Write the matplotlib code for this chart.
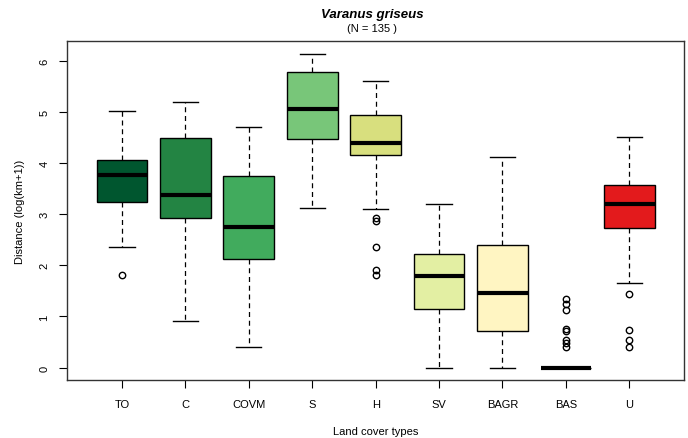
import matplotlib
matplotlib.use("Agg")
import matplotlib.pyplot as plt

# Box summaries (log(km+1) distance)
categories = ["TO", "C", "COVM", "S", "H", "SV", "BAGR", "BAS", "U"]
medians = [3.77, 3.37, 2.75, 5.07, 4.40, 1.79, 1.46, 0.0, 3.20]
q1 = [3.24, 2.93, 2.13, 4.47, 4.17, 1.14, 0.71, 0.0, 2.73]
q3 = [4.06, 4.50, 3.74, 5.78, 4.94, 2.23, 2.39, 0.0, 3.58]
whislo = [2.36, 0.91, 0.40, 3.13, 3.11, 0.0, 0.0, 0.0, 1.66]
whishi = [5.03, 5.19, 4.71, 6.13, 5.61, 3.20, 4.12, 0.0, 4.51]
outliers = [
    [1.81],
    [],
    [],
    [],
    [2.93, 2.86, 2.36, 1.90, 1.81],
    [],
    [],
    [1.35, 1.25, 1.13, 0.76, 0.71, 0.54, 0.48, 0.40],
    [1.43, 0.74, 0.53, 0.40],
]
colors = ["#00562f", "#238443", "#41ab5d", "#78c679", "#d8df7e",
          "#e3efa3", "#fff5c2", "#ffffff", "#e31a1c"]

plt.rcParams["font.family"] = ["Liberation Sans", "DejaVu Sans"]

fig = plt.figure(figsize=(6.88, 4.39), dpi=100)
ax = fig.add_axes([0.098, 0.132, 0.896, 0.772])

stats = []
for i, name in enumerate(categories):
    stats.append({
        "label": name,
        "med": medians[i],
        "q1": q1[i],
        "q3": q3[i],
        "whislo": whislo[i],
        "whishi": whishi[i],
        "fliers": outliers[i],
    })

bp = ax.bxp(
    stats,
    positions=range(1, len(categories) + 1),
    widths=0.8,
    patch_artist=True,
    showfliers=True,
    boxprops=dict(edgecolor="black", linewidth=1.0),
    medianprops=dict(color="black", linewidth=3.0, solid_capstyle="butt"),
    whiskerprops=dict(color="black", linewidth=0.9, linestyle=(0, (4, 3))),
    capprops=dict(color="black", linewidth=1.0),
    capwidths=0.4,
    flierprops=dict(marker="o", markerfacecolor="none", markeredgecolor="black",
                    markersize=4.6, markeredgewidth=1.0),
)
for patch, c in zip(bp["boxes"], colors):
    patch.set_facecolor(c)

ax.set_xlim(0.14, 9.86)
ax.set_ylim(-0.2456, 6.39)
ax.set_yticks([0, 1, 2, 3, 4, 5, 6])
ax.set_yticklabels(["0", "1", "2", "3", "4", "5", "6"], rotation=90, va="center")
ax.set_xticks(range(1, len(categories) + 1))
ax.set_xticklabels(categories)
ax.tick_params(axis="both", direction="out", length=6, width=0.8, labelsize=8, pad=8)
ax.tick_params(axis="y", pad=7)
for s in ax.spines.values():
    s.set_linewidth(1.0)
    s.set_color("#333333")

ax.set_xlabel("Land cover types", fontsize=8, labelpad=12)
ax.set_ylabel("Distance (log(km+1))", fontsize=8, labelpad=10)

fig.text(0.541, 0.965, "Varanus griseus", ha="center", va="center",
         fontsize=9.5, fontweight="bold", fontstyle="italic")
fig.text(0.541, 0.934, "(N = 135 )", ha="center", va="center", fontsize=8)

fig.savefig("out.png", dpi=100)
plt.close(fig)
